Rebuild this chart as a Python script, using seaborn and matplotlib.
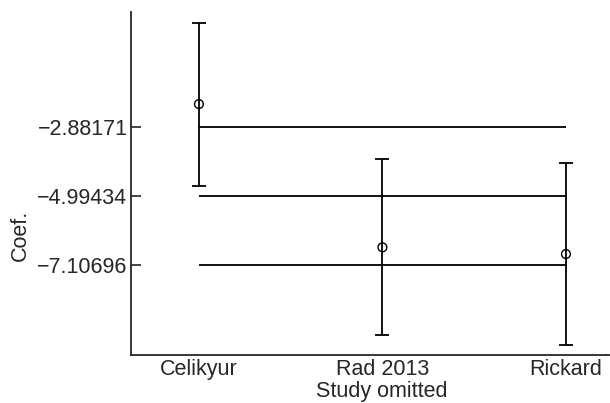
import numpy as np
import pandas as pd
import seaborn as sns
import matplotlib
matplotlib.use('Agg')
import matplotlib.pyplot as plt

# Influence analysis values
studies = ['Celikyur', 'Rad 2013', 'Rickard']
coef = [-2.178, -6.565, -6.771]
ci_low = [-4.688, -9.241, -9.547]
ci_high = [0.302, -3.871, -3.993]

# overall estimate and its confidence limits (also the y tick values)
overall_ticks = [-2.88171, -4.99434, -7.10696]

df = pd.DataFrame({'Study omitted': studies, 'Coef.': coef,
                   'low': ci_low, 'high': ci_high})

sns.set_style('ticks')
plt.rcParams['font.family'] = ['Liberation Sans', 'DejaVu Sans']
plt.rcParams['axes.unicode_minus'] = True

fs = 15.5
fig = plt.figure(figsize=(6.1, 4.03), dpi=100)
ax = fig.add_axes([0.2148, 0.119, 0.7852, 0.851])

# reference lines for the pooled estimate
ax.hlines(overall_ticks, 0, len(studies) - 1, color='black', linewidth=1.3, zorder=1)

# confidence intervals
yerr = [df['Coef.'] - df['low'], df['high'] - df['Coef.']]
ax.errorbar(np.arange(len(studies)), df['Coef.'], yerr=yerr, fmt='none',
            ecolor='black', elinewidth=1.3, capsize=4.7, capthick=1.3, zorder=2)

sns.scatterplot(data=df, x='Study omitted', y='Coef.', ax=ax, marker='o',
                s=40, facecolor='none', edgecolor='black', linewidth=1.0, zorder=3)

ax.set_xlim(-0.37, 2.24)
ax.set_ylim(-9.863, 0.639)
ax.set_yticks(overall_ticks)
ax.set_yticklabels(['\u2212%.5f' % abs(v) for v in overall_ticks])
ax.set_xticks(range(len(studies)))
ax.set_xticklabels(studies)

ax.tick_params(axis='y', direction='in', length=7, width=1.2, labelsize=fs, pad=2.5)
ax.tick_params(axis='x', length=0, labelsize=fs, pad=3)
for side in ['top', 'right']:
    ax.spines[side].set_visible(False)
for side in ['left', 'bottom']:
    ax.spines[side].set_linewidth(1.3)

ax.set_xlabel('Study omitted', fontsize=fs, labelpad=0)
ax.set_ylabel('Coef.', fontsize=fs)
ax.xaxis.set_label_coords(0.524, -0.077)
ax.yaxis.set_label_coords(-0.21, 0.35)

fig.savefig('out.png', dpi=100)
